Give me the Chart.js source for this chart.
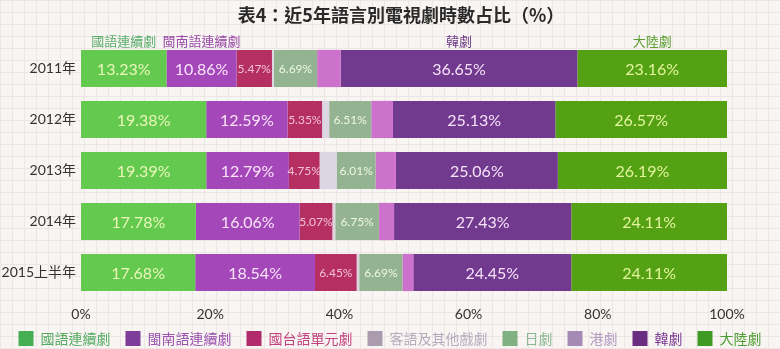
<!DOCTYPE html>
<html>
<head>
<meta charset="utf-8">
<script src="https://cdn.jsdelivr.net/npm/chart.js@4/dist/chart.umd.min.js"></script>
<style>
  html, body { margin: 0; padding: 0; }
  body {
    width: 780px; height: 349px; overflow: hidden;
    background-color: #f8f5f2;
    background-image:
      linear-gradient(#ede6e6 1px, transparent 1px),
      linear-gradient(90deg, #ede6e6 1px, transparent 1px);
    background-size: 12px 12px;
  }
  #wrap { position: relative; width: 780px; height: 349px; }
</style>
</head>
<body>
<div id="wrap"><canvas id="share"></canvas></div>
<script>
// Categories and series
const years = ['2011年', '2012年', '2013年', '2014年', '2015上半年'];
const seriesNames = ['國語連續劇', '閩南語連續劇', '國台語單元劇', '客語及其他戲劇', '日劇', '港劇', '韓劇', '大陸劇'];
const chartTitle = '表4：近5年語言別電視劇時數占比（%）';

// Share of drama hours, percent
const mandarinSerial = [13.23, 19.38, 19.39, 17.78, 17.68];
const minnanSerial   = [10.86, 12.59, 12.79, 16.06, 18.54];
const singleEpisode  = [5.47, 5.35, 4.75, 5.07, 6.45];
const hakkaOther     = [0.30, 1.10, 2.65, 0.45, 0.40];
const japanese       = [6.69, 6.51, 6.01, 6.75, 6.69];
const hongKong       = [3.64, 3.37, 3.16, 2.35, 1.68];
const korean         = [36.65, 25.13, 25.06, 27.43, 24.45];
const mainland       = [23.16, 26.57, 26.19, 24.11, 24.11];

const xTicks = [0, 20, 40, 60, 80, 100];

const seriesValues = [mandarinSerial, minnanSerial, singleEpisode, hakkaOther, japanese, hongKong, korean, mainland];
const barColors   = ['#63c94f', '#a447b9', '#b52f63', '#dcd6e2', '#93b391', '#cc72cc', '#723a8f', '#55a114'];
const legendBoxes = ['#45ad52', '#7e3d98', '#b02a6c', '#aa9cae', '#80b183', '#a68ab6', '#6a2d80', '#3f9a24'];
const legendTexts = ['#55ab63', '#9a52ae', '#c1437f', '#b7aabd', '#8db893', '#b39ac0', '#7a3a92', '#4f9e33'];
// inside-bar label style per series (null = no label)
const valueLabels = [
  { size: 16, color: '#eaf7b8' },
  { size: 16, color: '#f9e4f9' },
  { size: 12, color: '#f3c0d6' },
  null,
  { size: 12, color: '#eef7e4' },
  null,
  { size: 16, color: '#f5e2f8' },
  { size: 16, color: '#e2f59c' }
];
// series names written above the first bar
const headerLabels = [
  { color: '#5aae6a' }, { color: '#9a4aa8' }, null, null, null, null,
  { color: '#6e3a86' }, { color: '#5aa033' }
];

const valueLabelPlugin = {
  id: 'valueLabels',
  afterDatasetsDraw(chart) {
    const ctx = chart.ctx;
    const area = chart.chartArea;
    ctx.save();
    ctx.textAlign = 'center';
    ctx.textBaseline = 'middle';

    // title, centred over the plot area
    ctx.font = 'bold 18px "Noto Sans CJK TC", sans-serif';
    ctx.fillStyle = '#2a2a2a';
    ctx.fillText(chartTitle, (area.left + area.right) / 2 - 3, 15);

    // percent ticks under the bars (the x scale box is kept short so the legend sits close)
    const xs = chart.scales.x;
    ctx.font = '14px Lato, "Noto Sans", sans-serif';
    ctx.fillStyle = '#333';
    xTicks.forEach(v => ctx.fillText(v + '%', xs.getPixelForValue(v), area.bottom + 16));

    chart.data.datasets.forEach((ds, i) => {
      const meta = chart.getDatasetMeta(i);
      const lab = valueLabels[i];
      if (lab) {
        ctx.font = lab.size + 'px Lato, "Noto Sans", sans-serif';
        ctx.fillStyle = lab.color;
        meta.data.forEach((bar, j) => {
          const cx = (bar.x + bar.base) / 2;
          ctx.fillText(ds.data[j].toFixed(2) + '%', cx, bar.y + 1);
        });
      }
      const head = headerLabels[i];
      if (head) {
        const bar = meta.data[0];
        ctx.font = '13px "Noto Sans CJK TC", sans-serif';
        ctx.fillStyle = head.color;
        ctx.fillText(ds.label, (bar.x + bar.base) / 2, bar.y - bar.height / 2 - 9);
      }
    });
    ctx.restore();
  }
};

new Chart(document.getElementById('share'), {
  type: 'bar',
  data: {
    labels: years,
    datasets: seriesNames.map((name, i) => ({
      label: name,
      data: seriesValues[i],
      backgroundColor: barColors[i],
      borderWidth: 0,
      categoryPercentage: 1,
      barPercentage: 0.73
    }))
  },
  options: {
    indexAxis: 'y',
    responsive: true,
    maintainAspectRatio: false,
    animation: false,
    layout: { padding: { left: 0, right: 0, top: 43, bottom: -7 } },
    scales: {
      x: {
        stacked: true,
        min: 0,
        max: 100,
        grid: { display: false, drawTicks: false },
        border: { display: false },
        ticks: { display: false, stepSize: 20 },
        afterFit: (scale) => { scale.height = 18; }
      },
      y: {
        stacked: true,
        grid: { display: false, drawTicks: false },
        border: { display: false },
        afterFit: (scale) => { scale.width = 81; },
        ticks: {
          padding: 5,
          color: '#333',
          font: { size: 14, family: 'Lato, "Noto Sans CJK TC", sans-serif' }
        }
      },
      // empty right-hand margin so the legend can use the full width
      margin: {
        axis: 'y',
        position: 'right',
        grid: { display: false, drawTicks: false },
        border: { display: false },
        ticks: { display: false },
        afterFit: (scale) => { scale.width = 53; }
      }
    },
    plugins: {
      title: { display: false },
      legend: {
        position: 'bottom',
        labels: {
          boxWidth: 15,
          boxHeight: 15,
          padding: 15,
          font: { size: 14, family: '"Noto Sans CJK TC", sans-serif' },
          generateLabels: (chart) => chart.data.datasets.map((ds, i) => ({
            text: ds.label,
            fillStyle: legendBoxes[i],
            strokeStyle: legendBoxes[i],
            lineWidth: 0,
            fontColor: legendTexts[i],
            datasetIndex: i
          }))
        }
      },
      tooltip: { enabled: false }
    }
  },
  plugins: [valueLabelPlugin]
});
</script>
</body>
</html>
